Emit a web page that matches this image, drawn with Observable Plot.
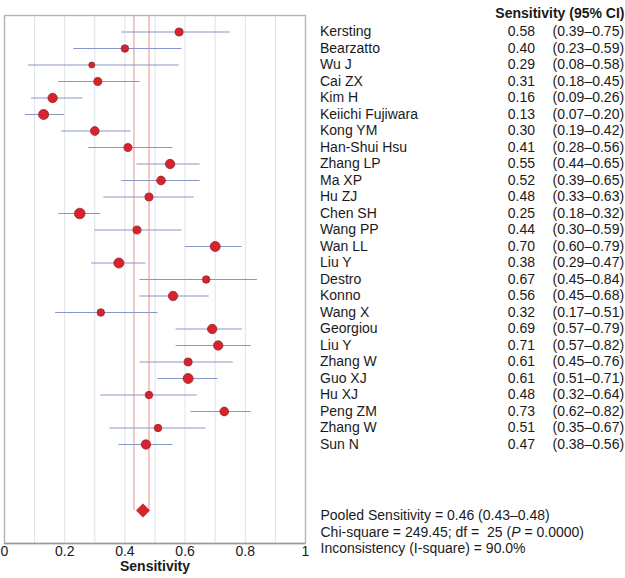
<!DOCTYPE html>
<html>
<head>
<meta charset="utf-8">
<script src="https://cdn.jsdelivr.net/npm/d3@7"></script>
<script src="https://cdn.jsdelivr.net/npm/@observablehq/plot@0.6"></script>
<style>
  html, body { margin: 0; padding: 0; background: #fff; }
  #chart svg { display: block; }
  #chart text { white-space: pre; }
</style>
</head>
<body>
<div id="chart"></div>
<script>
// ---- data ----
const studies = ["Kersting", "Bearzatto", "Wu J", "Cai ZX", "Kim H", "Keiichi Fujiwara", "Kong YM",
  "Han-Shui Hsu", "Zhang LP", "Ma XP", "Hu ZJ", "Chen SH", "Wang PP", "Wan LL", "Liu Y", "Destro",
  "Konno", "Wang X", "Georgiou", "Liu Y", "Zhang W", "Guo XJ", "Hu XJ", "Peng ZM", "Zhang W", "Sun N"];
const sensitivity = [0.58, 0.40, 0.29, 0.31, 0.16, 0.13, 0.30, 0.41, 0.55, 0.52, 0.48, 0.25, 0.44,
  0.70, 0.38, 0.67, 0.56, 0.32, 0.69, 0.71, 0.61, 0.61, 0.48, 0.73, 0.51, 0.47];
const ciLow = [0.39, 0.23, 0.08, 0.18, 0.09, 0.07, 0.19, 0.28, 0.44, 0.39, 0.33, 0.18, 0.30,
  0.60, 0.29, 0.45, 0.45, 0.17, 0.57, 0.57, 0.45, 0.51, 0.32, 0.62, 0.35, 0.38];
const ciHigh = [0.75, 0.59, 0.58, 0.45, 0.26, 0.20, 0.42, 0.56, 0.65, 0.65, 0.63, 0.32, 0.59,
  0.79, 0.47, 0.84, 0.68, 0.51, 0.79, 0.82, 0.76, 0.71, 0.64, 0.82, 0.67, 0.56];
// study weights
const weights = [16, 14, 9, 16, 22, 25, 19, 16, 22, 19, 16, 28, 16, 25, 25, 14, 22, 14, 22, 22,
  16, 25, 14, 19, 14, 22];
const pooled = {est: 0.46, lo: 0.43, hi: 0.48};
const chiSquare = 249.45, df = 25, pValue = "0.0000", iSquare = "90.0%";
const xTicks = [0, 0.2, 0.4, 0.6, 0.8, 1];
const gridTicks = [0.1, 0.2, 0.3, 0.4, 0.5, 0.6, 0.7, 0.8, 0.9];
const headerText = "Sensitivity (95% CI)";
const axisLabel = "Sensitivity";

// ---- table ----
const rows = studies.map((name, i) => ({
  name, i, sens: sensitivity[i], lo: ciLow[i], hi: ciHigh[i], w: weights[i]
}));
const pooledRow = studies.length + 3;
const stats = [
  `Pooled Sensitivity = ${pooled.est.toFixed(2)} (${pooled.lo.toFixed(2)}–${pooled.hi.toFixed(2)})`,
  `Chi-square = ${chiSquare.toFixed(2)}; df =  ${df} (P = ${pValue})`,
  `Inconsistency (I-square) = ${iSquare}`
];
const statsDy = [-24, -7, 9];

const font = "'Liberation Sans', Arial, Helvetica, sans-serif";
const ink = "#1a1a1a";

const chart = Plot.plot({
  width: 625,
  height: 578,
  marginLeft: 4,
  marginRight: 320,
  marginTop: 15,
  marginBottom: 35,
  style: {fontFamily: font, fontSize: "14px", color: ink, background: "#fff", overflow: "visible"},
  x: {domain: [0, 1], axis: null},
  y: {domain: [-1, 31], reverse: true, axis: null},
  r: {type: "sqrt", domain: [0, 30], range: [0, 5.5]},
  marks: [
    Plot.ruleX(gridTicks, {stroke: "#dde2ea", strokeWidth: 1}),
    Plot.ruleX([pooled.lo, pooled.hi], {y1: -1, y2: pooledRow, stroke: "#f2a0a0", strokeWidth: 1.2}),
    Plot.frame({stroke: "#b3b3b3", strokeWidth: 1.4}),
    Plot.ruleY([31], {stroke: "#999", strokeWidth: 1.4}),
    Plot.ruleY(rows, {y: "i", x1: "lo", x2: "hi", stroke: "#8797c8", strokeWidth: 1.2}),
    Plot.dot(rows, {x: "sens", y: "i", r: "w", fill: "#d7232d", stroke: "#8e1a1f", strokeWidth: 0.7}),
    Plot.dot([pooled], {x: "est", y: () => pooledRow, symbol: "diamond2", r: 6, fill: "#d7232d", stroke: "#b01d25", strokeWidth: 0.6}),
    Plot.axisX({ticks: xTicks, tickSize: 0, tickPadding: 3, tickFormat: d => String(d), label: null, fontSize: 14, fill: ink}),
    Plot.text([axisLabel], {frameAnchor: "bottom", dy: 27.5, fontWeight: "bold", fontSize: 14, fill: ink}),
    Plot.text([headerText], {frameAnchor: "top-right", dx: 319, dy: -7, textAnchor: "end", fontWeight: "bold", fontSize: 14, fill: ink}),
    Plot.text(rows, {x: () => 1, y: "i", text: "name", dx: 14.5, textAnchor: "start", fill: ink}),
    Plot.text(rows, {x: () => 1, y: "i", text: d => d.sens.toFixed(2), dx: 229.5, textAnchor: "end", fill: ink}),
    Plot.text(rows, {x: () => 1, y: "i", text: d => `(${d.lo.toFixed(2)}–${d.hi.toFixed(2)})`, dx: 247, textAnchor: "start", fill: ink}),
    ...stats.map((s, k) =>
      Plot.text([s], {frameAnchor: "bottom-right", dx: 15, dy: statsDy[k], textAnchor: "start", fill: ink})
    )
  ]
});

// italic P in the chi-square line
chart.querySelectorAll("text").forEach(t => {
  const s = t.textContent;
  if (s.includes("(P =") && t.children.length === 0) {
    const [a, b] = s.split("(P");
    t.textContent = "";
    const ns = "http://www.w3.org/2000/svg";
    const t1 = document.createElementNS(ns, "tspan"); t1.textContent = a + "(";
    const t2 = document.createElementNS(ns, "tspan"); t2.textContent = "P"; t2.setAttribute("font-style", "italic");
    const t3 = document.createElementNS(ns, "tspan"); t3.textContent = b;
    t.append(t1, t2, t3);
  }
});

document.getElementById("chart").append(chart);
</script>
</body>
</html>
